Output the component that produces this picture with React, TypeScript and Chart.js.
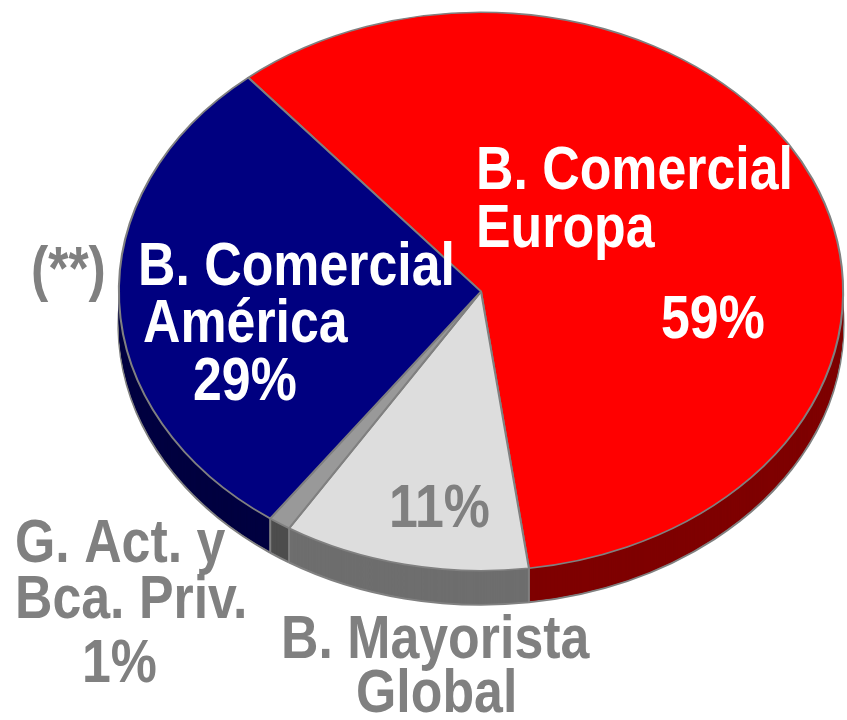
import React, { useEffect, useRef } from "react";
import { Chart, registerables } from "chart.js";

Chart.register(...registerables);

const categories = ["B. Comercial Europa", "B. Mayorista Global", "G. Act. y Bca. Priv.", "B. Comercial América"];
const shares = [59, 11, 1, 29];
const topColors = ["#FF0000", "#DDDDDD", "#999999", "#000080"];
const sideColors = ["#7F0000", "#6E6E6E", "#4D4D4D", "#000040"];

const FONT = '"Liberation Sans", Arial, sans-serif';
const NARROW = 0.85;
const SX = 1.297;
const DEPTH = 34;
const EDGE = "#808080";

type Label = { lines: string[]; x: number[]; y: number[]; color: string };
const labels: Label[] = [
  { lines: ["B. Comercial", "Europa"], x: [476, 476], y: [189, 247], color: "#FFFFFF" },
  { lines: ["59%"], x: [661], y: [338], color: "#FFFFFF" },
  { lines: ["(**)"], x: [31], y: [289], color: "#808080" },
  { lines: ["B. Comercial", "América", "29%"], x: [138, 143, 193], y: [285, 342, 400], color: "#FFFFFF" },
  { lines: ["11%"], x: [389], y: [527], color: "#808080" },
  { lines: ["G. Act. y", "Bca. Priv.", "1%"], x: [15, 15, 82], y: [562, 618, 682], color: "#808080" },
  { lines: ["B. Mayorista", "Global"], x: [281, 356], y: [658, 712], color: "#808080" },
];

const tiltPlugin = {
  id: "tilt3d",
  beforeDatasetsDraw(chart: any) {
    const ctx = chart.ctx;
    const meta = chart.getDatasetMeta(0);
    const arcs = meta.data as any[];
    if (!arcs.length) return;
    const cx = arcs[0].x;
    const cy = arcs[0].y;
    ctx.save();
    ctx.translate(cx, cy);
    ctx.scale(SX, 1);
    ctx.translate(-cx, -cy);
    for (let k = DEPTH; k >= 1; k--) {
      arcs.forEach((a: any, i: number) => {
        ctx.beginPath();
        ctx.moveTo(a.x, a.y + k);
        ctx.arc(a.x, a.y + k, a.outerRadius, a.startAngle, a.endAngle);
        ctx.closePath();
        ctx.fillStyle = sideColors[i];
        ctx.fill();
        if (k === DEPTH) {
          ctx.beginPath();
          ctx.arc(a.x, a.y + k, a.outerRadius, a.startAngle, a.endAngle);
          ctx.lineWidth = 2.2;
          ctx.strokeStyle = EDGE;
          ctx.stroke();
        }
      });
    }
    ctx.lineWidth = 1.6;
    ctx.strokeStyle = EDGE;
    arcs.forEach((a: any) => {
      const ang = a.startAngle;
      if (Math.sin(ang) > 0) {
        const px = a.x + a.outerRadius * Math.cos(ang);
        const py = a.y + a.outerRadius * Math.sin(ang);
        ctx.beginPath();
        ctx.moveTo(px, py);
        ctx.lineTo(px, py + DEPTH);
        ctx.stroke();
      }
    });
  },
  afterDatasetsDraw(chart: any) {
    chart.ctx.restore();
  },
  afterDraw(chart: any) {
    const ctx = chart.ctx;
    ctx.save();
    ctx.font = `bold 61px ${FONT}`;
    ctx.textAlign = "left";
    ctx.textBaseline = "alphabetic";
    labels.forEach((l) => {
      ctx.fillStyle = l.color;
      l.lines.forEach((t, i) => {
        ctx.save();
        ctx.translate(l.x[i], l.y[i]);
        ctx.scale(NARROW, 1);
        ctx.fillText(t, 0, 0);
        ctx.restore();
      });
    });
    ctx.restore();
  },
};

export default function App() {
  const ref = useRef<HTMLCanvasElement | null>(null);
  useEffect(() => {
    if (!ref.current) return;
    const chart = new Chart(ref.current, {
      type: "pie",
      data: {
        labels: categories,
        datasets: [
          {
            data: shares,
            backgroundColor: topColors,
            borderColor: EDGE,
            borderWidth: 1.6,
            clip: false as any,
          } as any,
        ],
      },
      options: {
        animation: false,
        responsive: false,
        rotation: -40,
        layout: { padding: { left: 201, right: 86, top: 11, bottom: 148 } },
        plugins: { legend: { display: false }, tooltip: { enabled: false } },
      },
      plugins: [tiltPlugin as any],
    });
    return () => chart.destroy();
  }, []);
  return (
    <div style={{ position: "fixed", left: 0, top: 0, width: 847, height: 720, background: "#fff" }}>
      <canvas ref={ref} width={847} height={720} style={{ width: 847, height: 720, display: "block" }} />
    </div>
  );
}
